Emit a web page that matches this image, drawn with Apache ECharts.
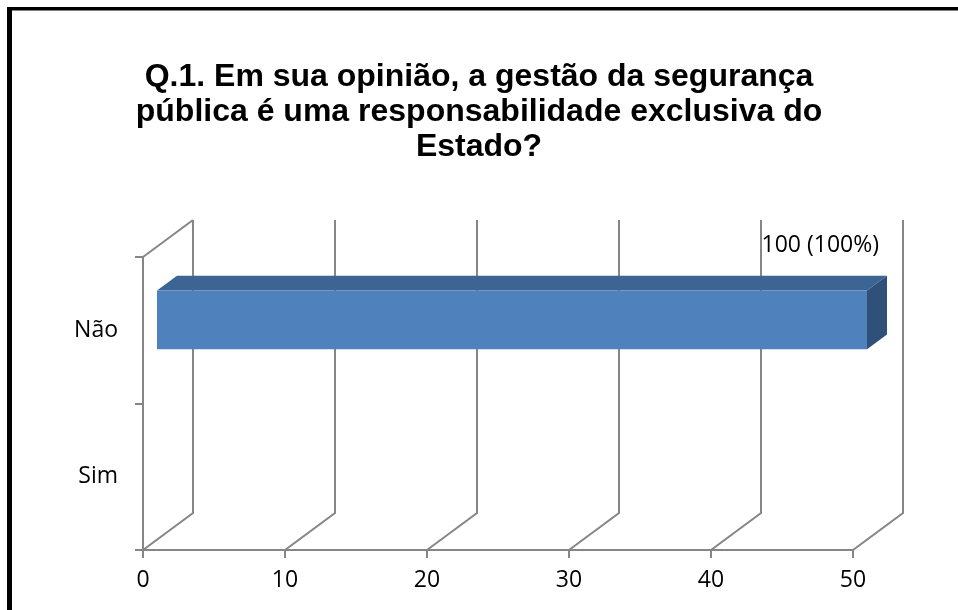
<!DOCTYPE html>
<html><head><meta charset="utf-8">
<script src="https://cdn.jsdelivr.net/npm/echarts@6/dist/echarts.min.js"></script>
<style>html,body{margin:0;padding:0;background:#fff;}#c{width:958px;height:610px;}</style>
</head><body><div id="c"></div>
<script>
const titleText = 'Q.1. Em sua opinião, a gestão da segurança\npública é uma responsabilidade exclusiva do\nEstado?';
const categories = ['Sim', 'Não'];
const values = [0, 100];
const xTicks = [0, 10, 20, 30, 40, 50];
const xMin = 0, xMax = 50, xStep = 10;

const total = values.reduce((a, b) => a + b, 0);
const DX = 50, DY = -37;            // 3D depth offset of the back wall
const F0 = 0.28, F1 = 0.68;         // bar front/back depth fractions
const BAR_FRAC = 0.4;
const GRID_COLOR = '#868686';
const LABEL_FONT = 'Open Sans';
const LABEL_SIZE = 23;

const chart = echarts.init(document.getElementById('c'), null, {renderer: 'canvas'});
chart.setOption({
  backgroundColor: '#fff',
  animation: false,
  title: {
    text: titleText, left: 'center', top: 60, padding: [0, 8, 0, 0],
    textStyle: {fontFamily: 'Liberation Sans', fontWeight: 'bold', fontSize: 32, lineHeight: 35, color: '#000'}
  },
  graphic: [
    {type: 'rect', shape: {x: 7, y: 7, width: 5, height: 620}, style: {fill: '#000'}, z: 100},
    {type: 'rect', shape: {x: 7, y: 7, width: 960, height: 3.5}, style: {fill: '#000'}, z: 100}
  ],
  grid: {left: 143, top: 257, width: 710, height: 293, containLabel: false},
  xAxis: {
    type: 'value', min: xMin, max: xMax, interval: xStep,
    axisLine: {show: true, lineStyle: {color: GRID_COLOR, width: 2}},
    axisTick: {show: true, length: 8, lineStyle: {color: GRID_COLOR, width: 2}},
    axisLabel: {margin: 19, fontFamily: LABEL_FONT, fontSize: LABEL_SIZE, color: '#000'},
    splitLine: {show: false}
  },
  yAxis: {
    type: 'category', data: categories,
    axisLine: {show: true, lineStyle: {color: GRID_COLOR, width: 2}},
    axisTick: {show: true, length: 8, lineStyle: {color: GRID_COLOR, width: 2}},
    axisLabel: {margin: 25, fontFamily: LABEL_FONT, fontSize: LABEL_SIZE, color: '#000'},
    splitLine: {show: false}
  },
  series: [
    {
      type: 'custom', name: 'grid3d', silent: true, z: 1,
      data: xTicks.map(v => [v]),
      encode: {x: 0},
      renderItem: function (params, api) {
        const cs = params.coordSys;
        const v = api.value(0);
        const x = api.coord([v, 0])[0];
        const yb = cs.y + cs.height, yt = cs.y;
        const st = {stroke: GRID_COLOR, lineWidth: 2, fill: null};
        const children = [{
          type: 'polyline',
          shape: {points: [[x, yb], [x + DX, yb + DY], [x + DX, yt + DY]]},
          style: st
        }];
        if (v === xMin) {
          children.push({type: 'line', shape: {x1: x, y1: yt, x2: x + DX, y2: yt + DY}, style: st});
        }
        return {type: 'group', children: children};
      }
    },
    {
      type: 'custom', name: 'bars', z: 5, clip: false,
      data: values.map((v, i) => [v, i]),
      encode: {x: 0, y: 1},
      renderItem: function (params, api) {
        const v = api.value(0);
        if (!(v > 0)) return {type: 'group', children: []};
        const ci = api.value(1);
        const vc = Math.min(v, xMax);
        const p0 = api.coord([xMin, ci]);
        const xL = p0[0], yc = p0[1];
        const xR = api.coord([vc, ci])[0];
        const bh = api.size([0, 1])[1] * BAR_FRAC;
        const yT = yc - bh / 2, yB = yc + bh / 2;
        const a = (x, y, f) => [x + f * DX, y + f * DY];
        const pct = Math.round(v / total * 100);
        return {type: 'group', children: [
          {type: 'polygon', shape: {points: [a(xL, yT, F0), a(xR, yT, F0), a(xR, yT, F1), a(xL, yT, F1)]},
           style: {fill: '#3C6594'}},
          {type: 'polygon', shape: {points: [a(xR, yT, F0), a(xR, yT, F1), a(xR, yB, F1), a(xR, yB, F0)]},
           style: {fill: '#2F5078'}},
          {type: 'polygon', shape: {points: [a(xL, yT, F0), a(xR, yT, F0), a(xR, yB, F0), a(xL, yB, F0)]},
           style: {fill: '#4F81BD'}},
          {type: 'text', x: xR + F1 * DX - 8, y: yT + F1 * DY - 30,
           style: {text: v + ' (' + pct + '%)', align: 'right', verticalAlign: 'middle',
                   fontFamily: LABEL_FONT, fontSize: LABEL_SIZE, fill: '#000'}}
        ]};
      }
    }
  ]
});
</script>
</body></html>
